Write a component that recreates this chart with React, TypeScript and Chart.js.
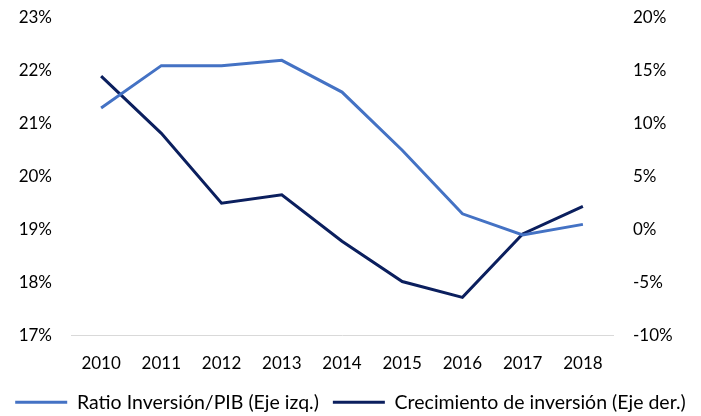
import React, { useEffect, useRef } from "react";
import { Chart, registerables } from "chart.js";

Chart.register(...registerables);

const years = ["2010", "2011", "2012", "2013", "2014", "2015", "2016", "2017", "2018"];
const ratioInversionPIB = [21.3, 22.1, 22.1, 22.2, 21.6, 20.5, 19.3, 18.9, 19.1];
const crecimientoInversion = [14.5, 9.1, 2.5, 3.3, -1.1, -4.9, -6.4, -0.4, 2.2];
const leftTicks = { min: 17, max: 23, step: 1 };
const rightTicks = { min: -10, max: 20, step: 5 };

export default function App() {
  const ref = useRef<HTMLCanvasElement>(null);
  useEffect(() => {
    document.body.style.margin = "0";
    const font = { family: "Lato", size: 17 };
    const legendFont = { family: "Lato", size: 19.5 };
    const chart = new Chart(ref.current!, {
      type: "line",
      data: {
        labels: years,
        datasets: [
          {
            label: "Ratio Inversión/PIB (Eje izq.)",
            data: ratioInversionPIB,
            borderColor: "#4472C4",
            backgroundColor: "#4472C4",
            borderWidth: 3,
            pointRadius: 0,
            yAxisID: "y",
            tension: 0,
          },
          {
            label: "Crecimiento de inversión (Eje der.)",
            data: crecimientoInversion,
            borderColor: "#0B1F5E",
            backgroundColor: "#0B1F5E",
            borderWidth: 3,
            pointRadius: 0,
            yAxisID: "y1",
            tension: 0,
          },
        ],
      },
      options: {
        animation: false,
        responsive: true,
        maintainAspectRatio: false,
        layout: { padding: { top: 18, bottom: -6, left: 0, right: 0 } },
        plugins: {
          tooltip: { enabled: false },
          legend: {
            position: "bottom",
            labels: {
              font: legendFont,
              color: "#000",
              boxWidth: 52,
              boxHeight: 3,
              padding: 14,
              generateLabels: (c) =>
                c.data.datasets.map((d, i) => ({
                  text: d.label as string,
                  fillStyle: d.borderColor as string,
                  strokeStyle: d.borderColor as string,
                  lineWidth: 0,
                  datasetIndex: i,
                  hidden: false,
                  fontColor: "#000",
                })),
            },
          },
        },
        scales: {
          x: {
            offset: true,
            grid: { display: false, drawTicks: false },
            border: { display: true, color: "#d9d9d9", width: 1 },
            ticks: { font, color: "#000", padding: 18, maxRotation: 0 },
            afterFit: (s) => {
              s.height = 43;
            },
          },
          y: {
            position: "left",
            min: leftTicks.min,
            max: leftTicks.max,
            grid: { display: false, drawTicks: false },
            border: { display: false },
            ticks: {
              stepSize: leftTicks.step,
              font,
              color: "#000",
              padding: 19,
              callback: (v) => `${v}%`,
            },
            afterFit: (s) => {
              s.width = 71;
              s.paddingTop = 0;
              s.paddingBottom = 0;
            },
          },
          y1: {
            position: "right",
            min: rightTicks.min,
            max: rightTicks.max,
            grid: { display: false, drawTicks: false },
            border: { display: false },
            ticks: {
              stepSize: rightTicks.step,
              font,
              color: "#000",
              padding: 20,
              callback: (v) => `${v}%`,
            },
            afterFit: (s) => {
              s.width = 88;
              s.paddingTop = 0;
              s.paddingBottom = 0;
            },
          },
        },
      },
    });
    return () => chart.destroy();
  }, []);
  return (
    <div style={{ position: "fixed", left: 0, top: 0, width: 701, height: 416 }}>
      <canvas ref={ref} />
    </div>
  );
}
